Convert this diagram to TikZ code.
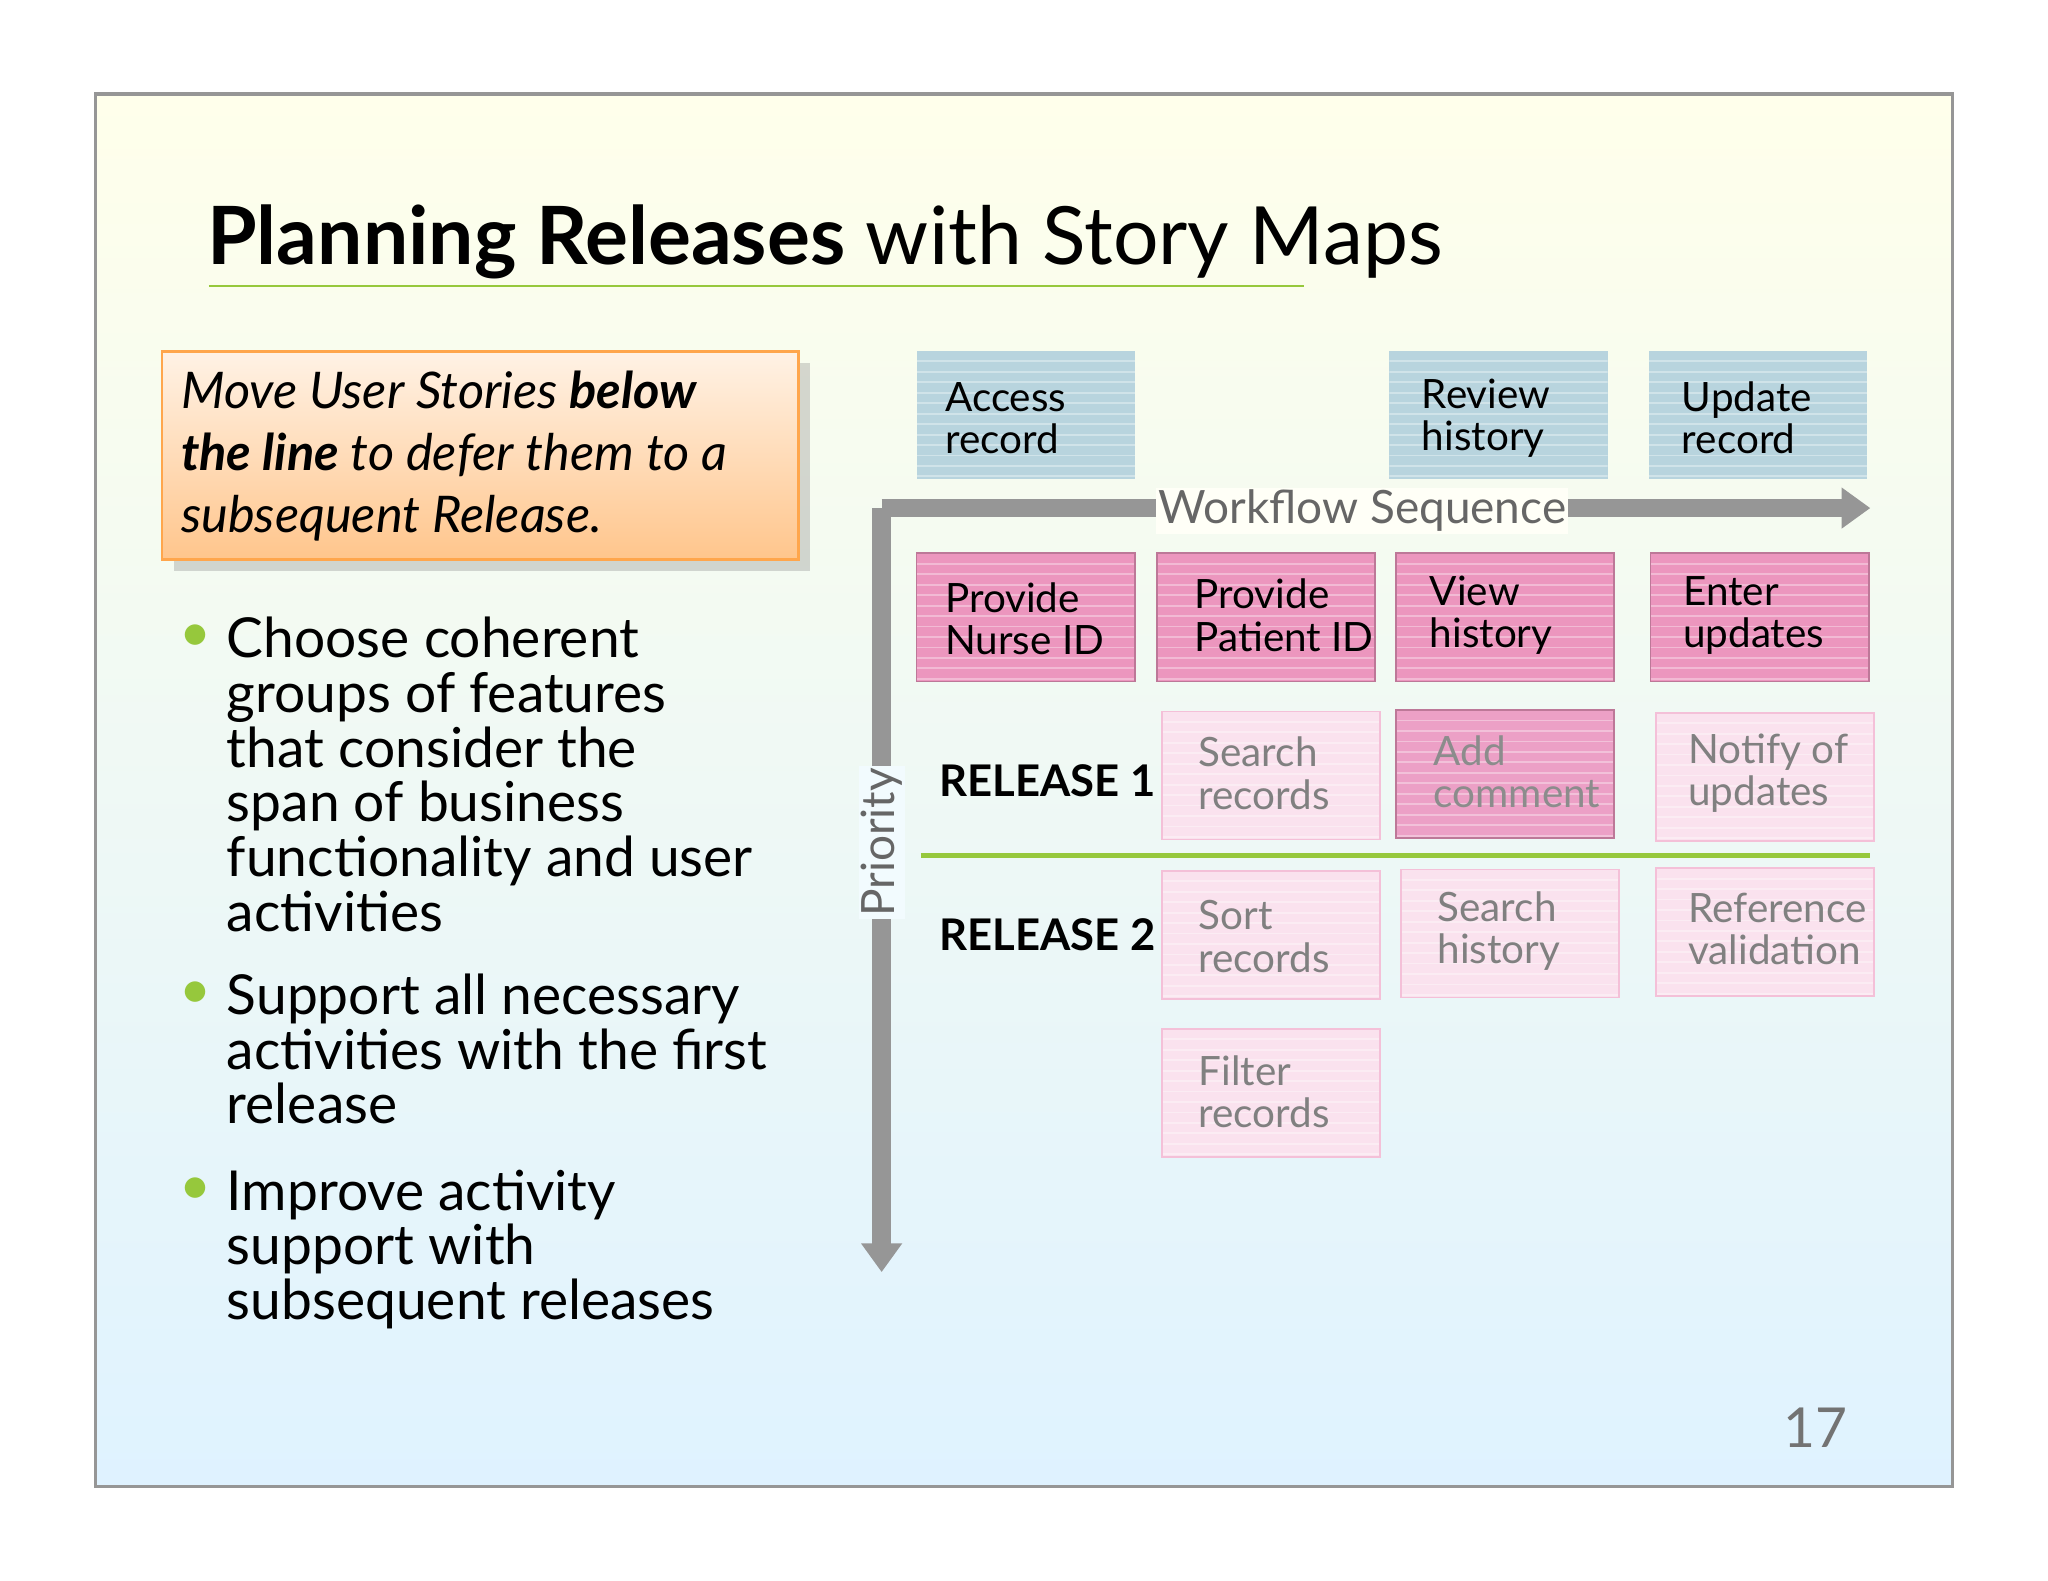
\documentclass[tikz,border=0pt]{standalone}
\usepackage{fontspec}
\setmainfont{Lato}
\usetikzlibrary{arrows.meta,shadows}
\definecolor{cblue}{RGB}{184,212,222}
\definecolor{cpink}{RGB}{236,150,190}
\definecolor{clight}{RGB}{250,226,238}
\definecolor{cmid}{RGB}{236,160,198}
\definecolor{agray}{RGB}{150,150,150}
\definecolor{lgreen}{RGB}{150,200,60}
\tikzset{
 card/.style={minimum width=1.67cm,minimum height=0.98cm,anchor=north west,inner sep=0pt,
   path picture={\foreach \k in {1,...,12}{\draw[white,opacity=0.35,line width=0.4pt]
     ([yshift=-\k*0.08cm]path picture bounding box.north west) -- ([yshift=-\k*0.08cm]path picture bounding box.north east);}}},
 bluecard/.style={card,fill=cblue},
 pinkcard/.style={card,fill=cpink,draw=cpink!80!black,line width=0.4pt},
 lightcard/.style={card,fill=clight,draw=cpink!60,line width=0.4pt},
 midcard/.style={card,fill=cmid,draw=cpink!80!black,line width=0.4pt},
 ctext/.style={anchor=west,align=left,font=\fontsize{8.8}{9.2}\selectfont,inner sep=0pt},
 faded/.style={ctext,text=black!50},
 rel/.style={font=\bfseries\fontsize{9.5}{10}\selectfont,anchor=west},
 bul/.style={anchor=north west,align=left,font=\fontsize{12}{11.9}\selectfont,inner sep=0pt},
 dot/.style={text=lgreen,font=\fontsize{12}{12}\selectfont,anchor=north west,inner sep=0pt}
}
\begin{document}
\begin{tikzpicture}[x=0.01cm,y=-0.01cm]
\useasboundingbox (0,0) rectangle (1568,1210);
\fill[white] (0,0) rectangle (1568,1210);
\shade[top color=yellow!8!white,middle color=white,bottom color=cyan!8!white!95!blue] (73,72) rectangle (1495,1138);
\draw[agray,line width=0.8pt] (73,72) rectangle (1495,1138);
% title
\node[anchor=west,inner sep=0pt,font=\fontsize{17.5}{20}\selectfont] (title) at (158,185) {\textbf{Planning Releases} with Story Maps};
\draw[lgreen,line width=0.6pt] (160,219) -- (998,219);
% callout
\node[anchor=north west,minimum width=4.87cm,minimum height=1.59cm,draw=orange!70,line width=0.6pt,
  top color=orange!10!white,bottom color=orange!45!white,drop shadow={opacity=0.3},inner sep=0pt] (call) at (123,268) {};
\node[anchor=west,align=left,inner sep=0pt,font=\itshape\fontsize{11}{13.5}\selectfont] (calltxt) at (138,349)
 {Move User Stories \textbf{below}\\\textbf{the line} to defer them to a\\subsequent Release.};
% bullets
\node[dot] (d1) at (137,478) {•};
\node[bul] (b1) at (173,472) {Choose coherent\\groups of features\\that consider the\\span of business\\functionality and user\\activities};
\node[dot] (d2) at (137,751) {•};
\node[bul] (b2) at (173,745) {Support all necessary\\activities with the first\\release};
\node[dot] (d3) at (137,901) {•};
\node[bul] (b3) at (173,895) {Improve activity\\support with\\subsequent releases};
% arrows
\coordinate (corner) at (675,389);
\coordinate (right) at (1432,389);
\coordinate (down) at (675,974);
\draw[agray,line width=4pt,-{Triangle[length=0.22cm,width=0.3cm]}] (corner) -- (right);
\draw[agray,line width=4pt,-{Triangle[length=0.22cm,width=0.3cm]}] (corner) -- (down);
\node[fill=white!97!yellow,inner sep=0.5pt,text=black!60,font=\fontsize{10}{11}\selectfont] (wf) at (1043,391) {Workflow Sequence};
\node[fill=white!95!cyan,inner sep=0.5pt,rotate=90,text=black!60,font=\fontsize{10}{11}\selectfont] (pr) at (675,645) {Priority};
\draw[lgreen,line width=1.2pt] (705,655) -- (1432,655);
\node[rel] (r1) at (707,598) {RELEASE 1};
\node[rel] (r2) at (707,716) {RELEASE 2};
% cards
\node[bluecard] (c1) at (701,268) {}; \node[ctext] at (723,320) {Access\\record};
\node[bluecard] (c2) at (1063,268) {}; \node[ctext] at (1088,320) {Review\\history};
\node[bluecard] (c3) at (1262,268) {}; \node[ctext] at (1287,320) {Update\\record};
\node[pinkcard] (p1) at (701,423) {}; \node[ctext] at (723,474) {Provide\\Nurse ID};
\node[pinkcard] (p2) at (885,423) {}; \node[ctext] at (914,471) {Provide\\Patient ID};
\node[pinkcard] (p3) at (1068,423) {}; \node[ctext] at (1094,471) {View\\history};
\node[pinkcard] (p4) at (1263,423) {}; \node[ctext] at (1288,471) {Enter\\updates};
\node[lightcard] (l1) at (889,544) {}; \node[faded] at (917,592) {Search\\records};
\node[midcard] (l2) at (1068,543) {}; \node[faded,text=black!45] at (1097,591) {Add\\comment};
\node[lightcard] (l3) at (1267,545) {}; \node[faded] at (1292,592) {Notify of\\updates};
\node[lightcard] (s1) at (889,666) {}; \node[faded] at (917,717) {Sort\\records};
\node[lightcard] (s2) at (1072,665) {}; \node[faded] at (1100,713) {Search\\history};
\node[lightcard] (s3) at (1267,664) {}; \node[faded] at (1292,711) {Reference\\validation};
\node[lightcard] (f1) at (889,787) {}; \node[faded] at (917,836) {Filter\\records};
\node[text=black!55,font=\fontsize{12}{13}\selectfont] (pg) at (1390,1093) {17};
\end{tikzpicture}
\end{document}
